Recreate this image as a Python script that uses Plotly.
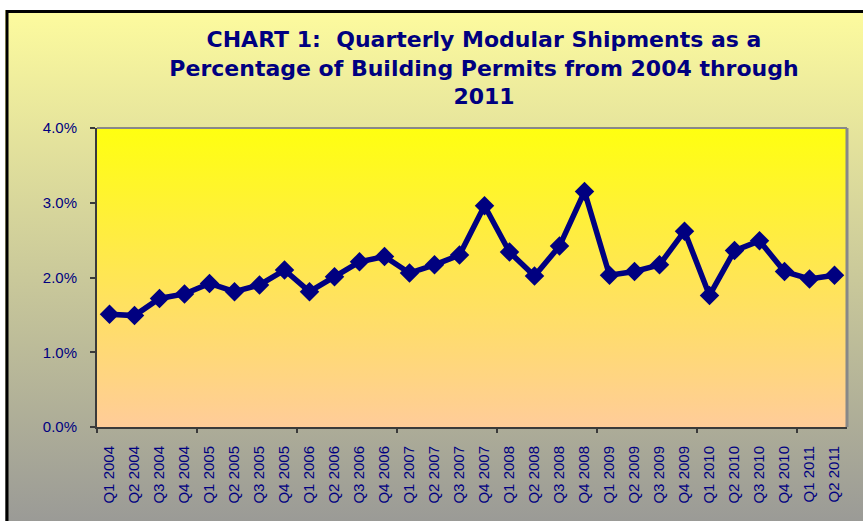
import base64
import plotly.graph_objects as go

# ---- data ----
quarters = [
    "Q1 2004", "Q2 2004", "Q3 2004", "Q4 2004",
    "Q1 2005", "Q2 2005", "Q3 2005", "Q4 2005",
    "Q1 2006", "Q2 2006", "Q3 2006", "Q4 2006",
    "Q1 2007", "Q2 2007", "Q3 2007", "Q4 2007",
    "Q1 2008", "Q2 2008", "Q3 2008", "Q4 2008",
    "Q1 2009", "Q2 2009", "Q3 2009", "Q4 2009",
    "Q1 2010", "Q2 2010", "Q3 2010", "Q4 2010",
    "Q1 2011", "Q2 2011",
]
modular_pct = [
    1.51, 1.49, 1.72, 1.78,
    1.92, 1.81, 1.90, 2.10,
    1.81, 2.01, 2.21, 2.28,
    2.06, 2.17, 2.30, 2.96,
    2.34, 2.02, 2.42, 3.15,
    2.03, 2.08, 2.17, 2.62,
    1.76, 2.36, 2.49, 2.08,
    1.98, 2.03,
]
y_ticks = [0, 1, 2, 3, 4]
y_tick_labels = ["0.0%", "1.0%", "2.0%", "3.0%", "4.0%"]
title_text = ("CHART 1:  Quarterly Modular Shipments as a<br>"
              "Percentage of Building Permits from 2004 through<br>2011")

# ---- layout geometry (pixels) ----
W, H = 863, 521
L, R, T, B = 97, 847, 128, 427
pw, ph = R - L, B - T

def px_x(p):
    return (p - L) / pw

def px_y(p):
    return (B - p) / ph

def grad_svg(top, bottom):
    svg = ('<svg xmlns="http://www.w3.org/2000/svg" width="100" height="100" '
           'viewBox="0 0 100 100" preserveAspectRatio="none">'
           '<defs><linearGradient id="g" x1="0" y1="0" x2="0" y2="1">'
           f'<stop offset="0" stop-color="{top}"/>'
           f'<stop offset="1" stop-color="{bottom}"/>'
           '</linearGradient></defs>'
           '<rect x="0" y="0" width="100" height="100" fill="url(#g)"/></svg>')
    return "data:image/svg+xml;base64," + base64.b64encode(svg.encode()).decode()

NAVY = "#000080"
AXIS = "#3a3a3a"
FONT = "Liberation Sans, Arial, sans-serif"

fig = go.Figure()
fig.add_trace(go.Scatter(
    x=quarters, y=modular_pct, mode="lines+markers",
    line=dict(color=NAVY, width=5.5),
    marker=dict(symbol="diamond", size=15, color=NAVY),
    hoverinfo="x+y", showlegend=False,
))
# empty helper trace for the tick-mark axis
fig.add_trace(go.Scatter(x=[], y=[], xaxis="x2", yaxis="y", showlegend=False))

n = len(quarters)
tick_bounds = [i - 0.5 for i in range(0, n, 4)]

fig.update_layout(
    width=W, height=H,
    margin=dict(l=L, r=W - R, t=T, b=H - B, pad=0),
    paper_bgcolor="white",
    plot_bgcolor="rgba(0,0,0,0)",
    title=dict(
        text=title_text,
        x=px_x(484), xref="paper", xanchor="center",
        y=1 - 47 / H, yref="container", yanchor="top",
        font=dict(family="DejaVu Sans, sans-serif", size=22, color=NAVY, weight="bold"),
    ),
    font=dict(family=FONT, color=NAVY),
    xaxis=dict(
        type="category", range=[-0.5, n - 0.5],
        showline=True, linecolor=AXIS, linewidth=2,
        ticks="", tickangle=-90, showgrid=False, zeroline=False,
        tickfont=dict(family=FONT, size=15, color=NAVY), ticklabelstandoff=11,
    ),
    xaxis2=dict(
        overlaying="x", anchor="y", side="bottom",
        range=[-0.5, n - 0.5], tickmode="array", tickvals=tick_bounds,
        ticks="outside", ticklen=5, tickwidth=2, tickcolor=AXIS,
        showticklabels=False, showline=False, showgrid=False, zeroline=False,
    ),
    yaxis=dict(
        range=[0, 4], tickmode="array", tickvals=y_ticks, ticktext=y_tick_labels,
        showline=True, linecolor=AXIS, linewidth=2,
        ticks="outside", ticklen=5, tickwidth=2, tickcolor=AXIS,
        showgrid=False, zeroline=False,
        tickfont=dict(family=FONT, size=15, color=NAVY), ticklabelstandoff=10,
    ),
    images=[
        dict(source=grad_svg("#FDFB9E", "#969696"), xref="paper", yref="paper",
             x=px_x(5), y=px_y(10), sizex=(880 - 5) / pw, sizey=(545 - 10) / ph,
             xanchor="left", yanchor="top", sizing="stretch", layer="below"),
        dict(source=grad_svg("#FFFF10", "#FFCC99"), xref="paper", yref="paper",
             x=0, y=1, sizex=1, sizey=1,
             xanchor="left", yanchor="top", sizing="stretch", layer="below"),
    ],
    shapes=[
        dict(type="rect", xref="paper", yref="paper", layer="below",
             x0=px_x(7), x1=px_x(900), y0=px_y(11.5), y1=px_y(560),
             line=dict(color="black", width=3), fillcolor="rgba(0,0,0,0)"),
        dict(type="line", xref="paper", yref="paper", layer="above",
             x0=0, x1=1, y0=1, y1=1, line=dict(color="#888888", width=2)),
        dict(type="line", xref="paper", yref="paper", layer="above",
             x0=1, x1=1, y0=0, y1=1, line=dict(color="#888888", width=3)),
    ],
)

fig.write_html("out.html", config={"displayModeBar": False},
               post_script="document.body.style.margin='0';")
